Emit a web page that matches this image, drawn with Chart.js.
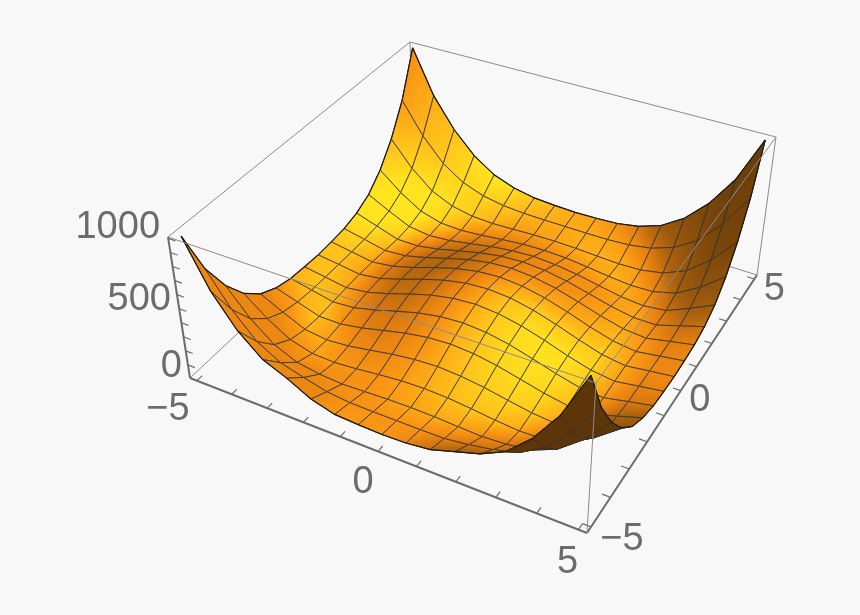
<!DOCTYPE html>
<html>
<head>
<meta charset="utf-8">
<style>
html, body { margin: 0; padding: 0; background: #f8f8f8; }
canvas { display: block; }
</style>
<script src="https://cdn.jsdelivr.net/npm/chart.js@4/dist/chart.umd.min.js"></script>
</head>
<body>
<div style="width:860px;height:615px"><canvas id="plot" width="860" height="615"></canvas></div>
<script>
// surface heights, one row per x from -5 to 5, one column per y from -5 to 5
const gridX = [-5, -4.375, -3.75, -3.125, -2.5, -1.875, -1.25, -0.625, 0, 0.625, 1.25, 1.875, 2.5, 3.125, 3.75, 4.375, 5];
const gridY = gridX;
const rowsZ = [
  [901, 566, 344, 186, 83, 28, 0, -9, -14, -9, 0, 28, 83, 186, 344, 566, 901],
  [566, 332, 162, 60, 5, -21, -31, -33, -33, -33, -31, -21, 5, 60, 162, 332, 566],
  [344, 162, 33, -35, -64, -70, -64, -57, -54, -57, -64, -70, -64, -35, 33, 162, 344],
  [200, 70, -35, -77, -83, -70, -52, -37, -32, -37, -52, -70, -83, -77, -35, 60, 186],
  [130, 25, -60, -83, -70, -43, -14, 6, 15, 6, -14, -43, -70, -83, -64, 5, 83],
  [45, -15, -70, -70, -43, -5, 32, 58, 68, 58, 32, -5, -43, -70, -70, -21, 28],
  [0, -31, -64, -52, -14, 32, 75, 104, 115, 104, 75, 32, -14, -52, -64, -31, 0],
  [-9, -33, -57, -37, 6, 58, 104, 135, 147, 135, 104, 58, 6, -37, -57, -33, -9],
  [-14, -33, -54, -32, 15, 68, 115, 147, 158, 147, 115, 68, 15, -32, -54, -33, -14],
  [-9, -33, -57, -37, 6, 58, 104, 135, 147, 135, 104, 58, 6, -37, -57, -33, -9],
  [10, -31, -64, -52, -14, 32, 75, 104, 115, 104, 75, 32, -14, -52, -64, -31, 0],
  [60, -10, -70, -70, -43, -5, 32, 58, 68, 58, 32, -5, -43, -70, -70, -21, 28],
  [110, 20, -60, -83, -70, -43, -14, 6, 15, 6, -14, -43, -70, -83, -64, 5, 83],
  [190, 65, -35, -77, -83, -70, -52, -37, -32, -37, -52, -70, -83, -77, -35, 60, 186],
  [344, 162, 33, -35, -64, -70, -64, -57, -54, -57, -64, -70, -64, -35, 33, 162, 344],
  [566, 332, 162, 60, 5, -21, -31, -33, -33, -33, -31, -21, 5, 60, 162, 332, 566],
  [901, 566, 344, 186, 83, 28, 0, -9, -14, -9, 0, 28, 83, 186, 344, 566, 901]
];
const xTicks = [-5, -4, -3, -2, -1, 0, 1, 2, 3, 4, 5];
const yTicks = xTicks;
const zTicks = [0, 100, 200, 300, 400, 500, 600, 700, 800, 900];
const xLabels = [-5, 0, 5];
const yLabels = [-5, 0, 5];
const zLabels = [0, 500, 1000];

// where the plot box sits in the window: L, F, R, B corners
const BOX_BOTTOM = [[190, 378], [587, 533], [757, 275], [414, 168]];
const BOX_TOP = [[168, 237], [596, 383], [776, 137], [410, 42]];
const XY_RANGE = 5.2;
const Z_RANGE = [-93, 910];

const AXIS_COLOR = '#6c6c6c';
const BOX_COLOR = '#8a8a8a';
const MESH_COLOR = 'rgba(50,50,45,0.9)';
const LIGHT = [0.55, -0.2, 0.8];
const RIM = [0.5, 0.85, 0];
const VIEW = [0.4, -0.55, 0.7];

const homography = (q) => {
    const [[x0, y0], [x1, y1], [x2, y2], [x3, y3]] = q;
    const dx1 = x1 - x2, dx2 = x3 - x2, sx = x0 - x1 + x2 - x3;
    const dy1 = y1 - y2, dy2 = y3 - y2, sy = y0 - y1 + y2 - y3;
    const den = dx1 * dy2 - dx2 * dy1;
    const g = (sx * dy2 - dx2 * sy) / den;
    const h = (dx1 * sy - sx * dy1) / den;
    const a = x1 - x0 + g * x1, b = x3 - x0 + h * x3;
    const d = y1 - y0 + g * y1, e = y3 - y0 + h * y3;
    return (u, v) => {
        const w = g * u + h * v + 1;
        return [(a * u + b * v + x0) / w, (d * u + e * v + y0) / w];
    };
};
const bottomAt = homography(BOX_BOTTOM);
const topAt = homography(BOX_TOP);

function project(x, y, z) {
    const u = (x + XY_RANGE) / (2 * XY_RANGE);
    const v = (y + XY_RANGE) / (2 * XY_RANGE);
    const t = (z - Z_RANGE[0]) / (Z_RANGE[1] - Z_RANGE[0]);
    const p0 = bottomAt(u, v), p1 = topAt(u, v);
    return { x: p0[0] + (p1[0] - p0[0]) * t, y: p0[1] + (p1[1] - p0[1]) * t };
}

// box coordinates, z is squashed to 0.4 like the plot box
const toBox = (x, y, z) => [x / 10, y / 10, z / 1000 * 0.4];

function shadeAt(i, j) {
    const n = gridX.length - 1;
    const i0 = Math.max(i - 1, 0), i1 = Math.min(i + 1, n);
    const j0 = Math.max(j - 1, 0), j1 = Math.min(j + 1, n);
    const dzx = 0.4 * (rowsZ[i1][j] - rowsZ[i0][j]) / 1000 / ((gridX[i1] - gridX[i0]) / 10);
    const dzy = 0.4 * (rowsZ[i][j1] - rowsZ[i][j0]) / 1000 / ((gridY[j1] - gridY[j0]) / 10);
    const len = Math.hypot(dzx, dzy, 1);
    const main = (-dzx * LIGHT[0] - dzy * LIGHT[1] + LIGHT[2]) / len;
    const rim = (-dzx * RIM[0] - dzy * RIM[1]) / len;
    // slopes turned to the far side stay orange instead of going yellow or dark
    const w = Math.min(1, Math.max(0, (rim - 0.1) / 0.3));
    return main * (1 - w) + 0.72 * w;
}

const shadeStops = [
    [-0.2, [90, 52, 10]],
    [0.2, [120, 68, 10]],
    [0.55, [165, 95, 15]],
    [0.68, [225, 125, 15]],
    [0.77, [250, 150, 20]],
    [0.85, [255, 185, 25]],
    [0.95, [255, 228, 32]]
];
function shadeColor(s) {
    if (s <= shadeStops[0][0]) s = shadeStops[0][0];
    for (let k = 1; k < shadeStops.length; k++) {
        if (s <= shadeStops[k][0]) {
            const [a, ca] = shadeStops[k - 1], [b, cb] = shadeStops[k];
            const t = (s - a) / (b - a);
            return `rgb(${ca.map((c, m) => Math.round(c + (cb[m] - c) * t)).join(',')})`;
        }
    }
    const last = shadeStops[shadeStops.length - 1][1];
    return `rgb(${last.join(',')})`;
}

const canvas = document.getElementById('plot');
const ctx = canvas.getContext('2d');

function cellGradient(p, s) {
    // p and s run round the cell: 00, 10, 11, 01
    const mid = (a, b) => ({ x: (a.x + b.x) / 2, y: (a.y + b.y) / 2 });
    const ax = mid(p[0], p[3]), bx = mid(p[1], p[2]);
    const ay = mid(p[0], p[1]), by = mid(p[3], p[2]);
    const du = (s[1] + s[2] - s[0] - s[3]) / 2;
    const dv = (s[3] + s[2] - s[0] - s[1]) / 2;
    const e1 = [bx.x - ax.x, bx.y - ax.y], e2 = [by.x - ay.x, by.y - ay.y];
    const det = e1[0] * e2[1] - e1[1] * e2[0];
    const centre = { x: (p[0].x + p[1].x + p[2].x + p[3].x) / 4, y: (p[0].y + p[1].y + p[2].y + p[3].y) / 4 };
    const sc = (s[0] + s[1] + s[2] + s[3]) / 4;
    if (Math.abs(det) < 1e-3) return shadeColor(sc);
    const gx = (du * e2[1] - dv * e1[1]) / det;
    const gy = (dv * e1[0] - du * e2[0]) / det;
    const g2 = gx * gx + gy * gy;
    if (g2 < 1e-9) return shadeColor(sc);
    const h = Math.max(Math.abs(du), Math.abs(dv), 0.01);
    const grad = ctx.createLinearGradient(
        centre.x - gx / g2 * h, centre.y - gy / g2 * h,
        centre.x + gx / g2 * h, centre.y + gy / g2 * h);
    grad.addColorStop(0, shadeColor(sc - h));
    grad.addColorStop(0.25, shadeColor(sc - h / 2));
    grad.addColorStop(0.5, shadeColor(sc));
    grad.addColorStop(0.75, shadeColor(sc + h / 2));
    grad.addColorStop(1, shadeColor(sc + h));
    return grad;
}

const lineSet = (data, color, width) => ({
    type: 'scatter', data, showLine: true, fill: false, tension: 0,
    borderColor: color, borderWidth: width, pointRadius: 0
});

function surfaceSets() {
    const cells = [];
    const n = gridX.length - 1;
    for (let i = 0; i < n; i++) {
        for (let j = 0; j < n; j++) {
            const idx = [[i, j], [i + 1, j], [i + 1, j + 1], [i, j + 1]];
            const world = idx.map(([a, b]) => [gridX[a], gridY[b], rowsZ[a][b]]);
            const pts = world.map(w => project(w[0], w[1], w[2]));
            const depth = world.reduce((sum, w) => {
                const b = toBox(w[0], w[1], w[2]);
                return sum + b[0] * VIEW[0] + b[1] * VIEW[1] + b[2] * VIEW[2];
            }, 0);
            let area = 0;
            pts.forEach((a, k) => {
                const b = pts[(k + 1) % 4];
                area += a.x * b.y - b.x * a.y;
            });
            cells.push({ idx, pts, depth, under: area > 0 });
        }
    }
    cells.sort((a, b) => a.depth - b.depth);

    const sets = [];
    cells.forEach(cell => {
        const loop = [...cell.pts, cell.pts[0]];
        const shades = cell.idx.map(([a, b]) => shadeAt(a, b));
        const paint = cell.under ? '#5e3508' : cellGradient(cell.pts, shades);
        sets.push({
            type: 'scatter', data: loop, showLine: true, fill: 'shape', tension: 0,
            backgroundColor: paint, borderColor: paint, borderWidth: 1, pointRadius: 0
        });
        sets.push(lineSet(loop, MESH_COLOR, 1));
    });
    return sets;
}

function edgeSets() {
    const n = gridX.length - 1;
    const edge = (fn) => gridX.map((_, k) => fn(k));
    const onGrid = (a, b) => project(gridX[a], gridY[b], rowsZ[a][b]);
    return [
        edge(k => onGrid(k, 0)),
        edge(k => onGrid(k, n)),
        edge(k => onGrid(0, k)),
        edge(k => onGrid(n, k))
    ].map(data => lineSet(data, '#1d1a12', 1.2));
}

const cornerAt = (x, y, z) => project(x, y, z);
const R = XY_RANGE, ZB = Z_RANGE[0], ZT = Z_RANGE[1];

function boxBackSets() {
    return [
        [cornerAt(-R, -R, ZT), cornerAt(-R, R, ZT), cornerAt(R, R, ZT)],
        [cornerAt(-R, -R, ZB), cornerAt(-R, R, ZB), cornerAt(R, R, ZB)],
        [cornerAt(-R, R, ZB), cornerAt(-R, R, ZT)],
        [cornerAt(R, R, ZB), cornerAt(R, R, ZT)]
    ].map(data => lineSet(data, BOX_COLOR, 1));
}

function boxFrontSets() {
    return [
        [cornerAt(-R, -R, ZT), cornerAt(R, -R, ZT), cornerAt(R, R, ZT)],
        [cornerAt(R, -R, ZB), cornerAt(R, -R, ZT)]
    ].map(data => lineSet(data, BOX_COLOR, 1));
}

function axisSets() {
    const sets = [
        lineSet([cornerAt(-R, -R, ZB), cornerAt(R, -R, ZB)], AXIS_COLOR, 2),
        lineSet([cornerAt(R, -R, ZB), cornerAt(R, R, ZB)], AXIS_COLOR, 2),
        lineSet([cornerAt(-R, -R, ZB), cornerAt(-R, -R, ZT)], AXIS_COLOR, 2)
    ];
    xTicks.forEach(t => sets.push(lineSet([cornerAt(t, -R, ZB), cornerAt(t, -R + 0.2, ZB)], AXIS_COLOR, 1.2)));
    yTicks.forEach(t => sets.push(lineSet([cornerAt(R, t, ZB), cornerAt(R - 0.2, t, ZB)], AXIS_COLOR, 1.2)));
    zTicks.forEach(t => sets.push(lineSet([cornerAt(-R, -R, t), cornerAt(-R + 0.2, -R, t)], AXIS_COLOR, 1.2)));
    return sets;
}

const tickText = (v) => String(v).replace('-', '\u2212');
const xLabelShift = [[-29, 29], [-15, 31], [-11, 33]];
const yLabelShift = [[31, 13], [19, 10], [20, 10]];
const zLabelDrop = [2, 5, 3];
const tickLabels = {
    id: 'tickLabels',
    afterDatasetsDraw(chart) {
        const c = chart.ctx;
        c.save();
        c.fillStyle = '#6c6c6c';
        c.font = '38px "Liberation Sans"';
        c.textBaseline = 'middle';
        c.textAlign = 'center';
        xLabels.forEach((t, k) => {
            const p = cornerAt(t, -R, ZB);
            c.fillText(tickText(t), p.x + xLabelShift[k][0], p.y + xLabelShift[k][1]);
        });
        yLabels.forEach((t, k) => {
            const p = cornerAt(R, t, ZB);
            c.fillText(tickText(t), p.x + yLabelShift[k][0], p.y + yLabelShift[k][1]);
        });
        c.textAlign = 'right';
        zLabels.forEach((t, k) => {
            const p = cornerAt(-R, -R, t);
            c.fillText(tickText(t), p.x - 6, p.y + zLabelDrop[k]);
        });
        c.restore();
    }
};

// the chart draws its last dataset first, so the list is turned round
const datasets = [
    ...boxBackSets(), ...axisSets(), ...surfaceSets(), ...edgeSets(), ...boxFrontSets()
].reverse();

new Chart(canvas, {
    type: 'scatter',
    data: { datasets },
    options: {
        responsive: false,
        animation: false,
        events: [],
        layout: { padding: 0 },
        plugins: { legend: { display: false }, tooltip: { enabled: false } },
        scales: {
            x: { type: 'linear', display: false, min: 0, max: 860 },
            y: { type: 'linear', display: false, min: 0, max: 615, reverse: true }
        }
    },
    plugins: [tickLabels]
});
</script>
</body>
</html>
